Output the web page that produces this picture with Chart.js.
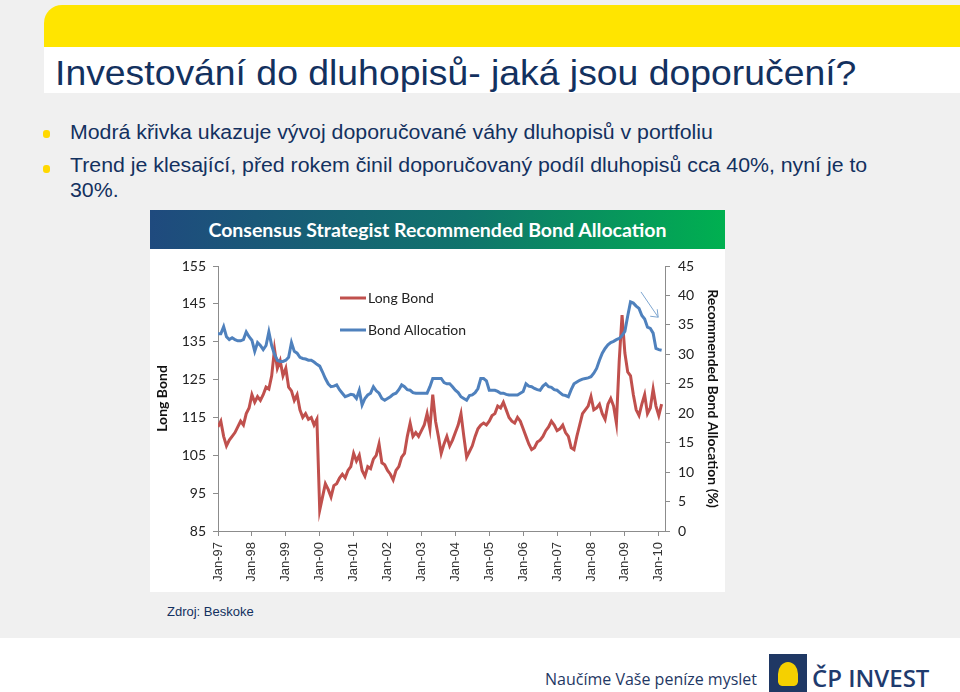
<!DOCTYPE html>
<html>
<head>
<meta charset="utf-8">
<script src="https://cdn.jsdelivr.net/npm/chart.js@4"></script>
<style>
html, body { margin: 0; padding: 0; }
body { width: 960px; height: 692px; background: #fff; position: relative; overflow: hidden; font-family: 'Liberation Sans', Arial, sans-serif; }
#panel { position: absolute; left: 0; top: 0; width: 960px; height: 638px; background: #f0f0f0; }
#yellow { position: absolute; left: 44px; top: 5px; width: 916px; height: 46px; background: #ffe500; border-top-left-radius: 18px; }
#titlebar { position: absolute; left: 44px; top: 47px; width: 916px; height: 46px; background: #fff; }
#title { position: absolute; left: 55px; top: 53px; font-size: 35px; line-height: 40px; color: #13315f; white-space: nowrap; transform: scaleX(1.067); transform-origin: 0 0; }
.bullet { position: absolute; left: 43px; width: 7px; height: 8px; background: #ffd800; border-radius: 3px; }
.btext { position: absolute; left: 70px; font-size: 20px; line-height: 24.5px; color: #13315f; white-space: nowrap; transform: scaleX(1.065); transform-origin: 0 0; }
#chartbox { position: absolute; left: 150px; top: 210px; width: 575px; height: 382px; background: #fff; }
#charthead { position: absolute; left: 0; top: 0; width: 575px; height: 39px; background: linear-gradient(90deg, #1f4a7e 0%, #10746c 55%, #00b050 100%); color: #fff; font-family: Lato, sans-serif; font-weight: 700; font-size: 19.5px; line-height: 40px; text-align: center; }
#c { position: absolute; left: 0; top: 39px; }
#source { position: absolute; left: 167px; top: 604px; font-size: 13px; color: #13315f; }
#slogan { position: absolute; left: 545px; top: 668px; font-family: 'Open Sans', sans-serif; font-size: 16px; color: #1f3864; }
#logo { position: absolute; left: 769px; top: 654px; width: 34px; height: 36px; border: 2px solid #1f3864; background: #1f3864; }
#logo div { position: absolute; left: 7px; top: 6px; width: 20px; height: 24px; background: #f5d000; border-radius: 50% 50% 20% 20%; }
#brand { position: absolute; left: 812px; top: 661px; font-family: 'Open Sans', sans-serif; font-size: 24px; font-weight: 600; color: #1f3b6e; }
</style>
</head>
<body>
<div id="panel"></div>
<div id="yellow"></div>
<div id="titlebar"></div>
<div id="title">Investování do dluhopisů- jaká jsou doporučení?</div>
<div class="bullet" style="top:130px"></div>
<div class="btext" style="top:120px">Modrá křivka ukazuje vývoj doporučované váhy dluhopisů v portfoliu</div>
<div class="bullet" style="top:165px"></div>
<div class="btext" style="top:153px">Trend je klesající, před rokem činil doporučovaný podíl dluhopisů cca 40%, nyní je to<br>30%.</div>
<div id="chartbox">
  <div id="charthead">Consensus Strategist Recommended Bond Allocation</div>
  <canvas id="c" width="575" height="343"></canvas>
</div>
<div id="source">Zdroj: Beskoke</div>
<div id="slogan">Naučíme Vaše peníze myslet</div>
<div id="logo"><div></div></div>
<div id="brand">ČP INVEST</div>
<script>
// monthly readings, index 0 = Jan-97
var longBond = [112.5, 114, 110, 107.5, 109, 110, 111, 112.5, 114, 113, 116, 117.5,
  121, 119, 120.5, 119.5, 121, 123, 122.5, 126, 133, 128, 130, 126,
  128, 123, 122, 119.5, 121, 117, 115, 116, 114.5, 115, 113, 114.5,
  90.5, 94, 97.5, 96, 94, 97, 97.5, 99, 100, 99, 101, 102,
  105.5, 103.5, 105, 101, 99.5, 102, 101.5, 104, 105, 108, 103, 102.5,
  101, 100, 98.5, 101, 102, 104.5, 105.5, 110, 113.5, 110, 111, 110,
  111.5, 113, 116, 112, 121, 114, 110, 105.5, 108, 110, 107.5, 109,
  111, 113, 116, 110, 104.5, 106, 107.5, 110, 112, 113, 113.5, 113,
  114, 115.5, 116, 118, 117.5, 119, 117, 115, 114, 113.5, 115, 114,
  112, 110, 108, 106.5, 107, 108.5, 109, 110, 111.5, 112.5, 114, 113,
  111.5, 112, 113, 111, 110, 107, 106.5, 110, 113, 116, 117, 118,
  120.5, 117, 117.5, 118.5, 116, 114.5, 118.5, 120, 118, 113.5, 130, 142,
  132, 127, 126, 121, 117, 115.5, 118.5, 121, 116, 117.5, 122.5, 118,
  115.5, 118.5];
var bondAllocation = [33.5, 33.5, 34.7, 33, 32.5, 32.8, 32.5, 32.3, 32.3, 32.5, 33.8, 33,
  32.4, 30.5, 32, 31.5, 30.8, 31.5, 33.8, 31.5, 30, 29, 28.8, 28.8,
  29, 29.5, 32, 30.5, 30.2, 29.5, 29.3, 29.2, 29, 29, 28.7, 28.3,
  28, 27, 25.9, 25, 24.5, 24.6, 24.8, 24, 23.4, 22.8, 23, 23.2,
  23.1, 22.5, 23.9, 21.4, 22.5, 23.1, 23.4, 24.5, 23.8, 23.4, 22.5, 22.2,
  22.5, 22.8, 23.2, 23.4, 24, 24.8, 24.5, 24, 23.9, 23.5, 23.4, 23.4,
  23.4, 23.4, 23.4, 24.5, 25.9, 25.9, 25.9, 25.9, 25.2, 25, 25, 24.5,
  23.9, 23.5, 22.8, 22.5, 22.2, 23, 23.1, 23.5, 24.2, 25.9, 25.9, 25.5,
  23.9, 23.9, 23.9, 23.7, 23.4, 23.4, 23.2, 23.1, 23.1, 23.1, 23.1, 23.4,
  23.7, 25, 24.6, 24.5, 24.2, 24, 23.9, 24.6, 25, 24.5, 24.4, 24,
  23.9, 23.5, 23.1, 23, 22.8, 24, 25, 25.3, 25.6, 25.8, 25.9, 26,
  26.2, 26.8, 27.6, 29, 30.2, 31, 31.6, 32, 32.2, 32.5, 32.7, 33.2,
  33.9, 36.5, 38.9, 38.7, 38.2, 37.8, 36.6, 36, 34.6, 34.4, 33.6, 31,
  30.8, 30.7];
var tickLabels = ['Jan-97', 'Jan-98', 'Jan-99', 'Jan-00', 'Jan-01', 'Jan-02', 'Jan-03',
  'Jan-04', 'Jan-05', 'Jan-06', 'Jan-07', 'Jan-08', 'Jan-09', 'Jan-10'];
var seriesNames = ['Long Bond', 'Bond Allocation'];

function toPoints(arr) {
  return arr.map(function(v, i) { return {x: i, y: v}; });
}

var tickFont = {family: 'Lato', size: 14};
var axisColor = '#8c8c8c';

// legend drawn inside the plot + the little hand-drawn arrow
var extras = {
  id: 'extras',
  afterDraw: function(chart) {
    var ctx = chart.ctx;
    ctx.save();
    chart.data.datasets.forEach(function(ds, i) {
      var y = 49 + i * 32;
      ctx.strokeStyle = ds.borderColor;
      ctx.lineWidth = 3;
      ctx.beginPath();
      ctx.moveTo(190, y);
      ctx.lineTo(216, y);
      ctx.stroke();
      ctx.fillStyle = '#222';
      ctx.font = '14px Lato';
      ctx.textBaseline = 'middle';
      ctx.fillText(ds.label, 218, y);
    });
    var xs = chart.scales.x, ys = chart.scales.y1;
    var x0 = xs.getPixelForValue(149.7), y0 = ys.getPixelForValue(40.6);
    var x1 = xs.getPixelForValue(155.8), y1 = ys.getPixelForValue(36.3);
    ctx.strokeStyle = '#7ea6d0';
    ctx.lineWidth = 1;
    ctx.beginPath();
    ctx.moveTo(x0, y0);
    ctx.lineTo(x1, y1);
    ctx.moveTo(x1 - 8, y1 - 1);
    ctx.lineTo(x1, y1);
    ctx.lineTo(x1 - 1, y1 - 8);
    ctx.stroke();
    ctx.restore();
  }
};

var chart = new Chart(document.getElementById('c'), {
  type: 'line',
  data: {
    datasets: [{
      label: seriesNames[0],
      data: toPoints(longBond),
      yAxisID: 'y',
      borderColor: '#c0504d',
      borderWidth: 3,
      pointRadius: 0,
      order: 1
    }, {
      label: seriesNames[1],
      data: toPoints(bondAllocation),
      yAxisID: 'y1',
      borderColor: '#4f81bd',
      borderWidth: 3,
      pointRadius: 0,
      order: 0
    }]
  },
  options: {
    responsive: false,
    animation: false,
    layout: {padding: {top: 17, left: 0, right: 0, bottom: 0}},
    plugins: {legend: {display: false}, tooltip: {enabled: false}},
    scales: {
      x: {
        type: 'linear',
        min: 0,
        max: 158.2,
        afterBuildTicks: function(s) {
          s.ticks = tickLabels.map(function(t, i) { return {value: i * 12}; });
        },
        afterFit: function(s) { s.height = 61; },
        ticks: {
          autoSkip: false, maxRotation: 90, minRotation: 90, padding: 6,
          color: '#333', font: {family: 'Liberation Sans', size: 13},
          callback: function(v) { return tickLabels[Math.round(v / 12)]; }
        },
        grid: {drawOnChartArea: false, tickLength: 5, color: axisColor},
        border: {color: axisColor}
      },
      y: {
        position: 'left',
        min: 85,
        max: 155,
        afterFit: function(s) { s.width = 68; },
        ticks: {stepSize: 10, padding: 7, color: '#222', font: tickFont},
        grid: {drawOnChartArea: false, tickLength: 5, color: axisColor},
        border: {color: axisColor},
        title: {display: true, text: 'Long Bond', color: '#111', font: {family: 'Lato', size: 14, weight: 'bold'}, padding: 4}
      },
      y1: {
        position: 'right',
        min: 0,
        max: 45,
        afterFit: function(s) { s.width = 60; },
        ticks: {stepSize: 5, padding: 8, color: '#222', font: tickFont},
        grid: {drawOnChartArea: false, tickLength: 5, color: axisColor},
        border: {color: axisColor},
        title: {display: true, text: 'Recommended Bond Allocation (%)', color: '#111', font: {family: 'Lato', size: 14, weight: 'bold'}, padding: {top: 4, bottom: 8}}
      }
    }
  },
  plugins: [extras]
});
</script>
</body>
</html>
